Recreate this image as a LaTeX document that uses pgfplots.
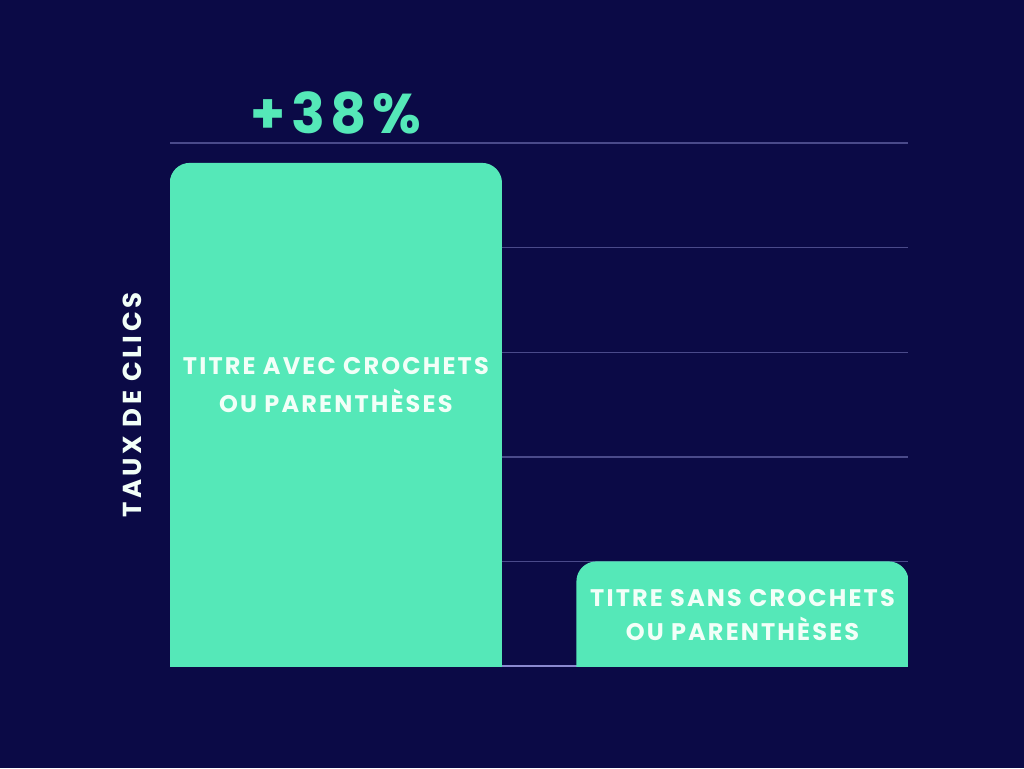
\documentclass[border=0pt]{standalone}
\usepackage{pgfplots}
\pgfplotsset{compat=1.18}
\usepackage{fontspec}
\setmainfont{Poppins}
\newfontfamily\barfont{Poppins}[LetterSpace=9]
\newfontfamily\labfont{Poppins}[LetterSpace=13]
\newfontfamily\bigfont{Poppins}[LetterSpace=10]
\definecolor{bgc}{HTML}{0B0A46}
\definecolor{barc}{HTML}{55E8B8}
\definecolor{gridc}{HTML}{4A4A8A}
\definecolor{basec}{HTML}{8A8AD0}
\definecolor{txtc}{HTML}{F2FFF8}
\begin{document}
\begin{tikzpicture}
\fill[bgc] (0,0) rectangle (512pt,384pt);
\begin{scope}
\clip (0,50.6pt) rectangle (512pt,384pt);
\begin{axis}[
  at={(85pt,35.31pt)}, anchor=south west,
  scale only axis, width=369pt, height=277.19pt,
  xmin=-0.408, xmax=1.407, ymin=0.7, ymax=6,
  axis line style={draw=none},
  tick style={draw=none},
  xtick=\empty,
  ytick={2,3,4,5,6},
  yticklabels={},
  extra y ticks={1},
  extra y tick labels={},
  extra y tick style={grid style={basec, line width=0.8pt}},
  ymajorgrids,
  grid style={gridc, line width=0.7pt},
  clip mode=individual,
  ybar, bar width=0.817,
  ylabel={TAUX DE CLICS},
  every axis y label/.style={at={(axis description cs:-0.0515,0.527)}, rotate=90, anchor=center,
    font=\fontsize{13}{15}\selectfont\bfseries\labfont, text=txtc},
]
\addplot[fill=barc, draw=none, rounded corners=10pt, y filter/.expression={y+1}]
  coordinates {(0,4.81) (1,1.0)};
\node[font=\fontsize{12}{19}\selectfont\bfseries\barfont, text=txtc, align=center]
  at (axis cs:0,3.69) {TITRE AVEC CROCHETS\\OU PARENTHÈSES};
\node[font=\fontsize{12}{17}\selectfont\bfseries\barfont, text=txtc, align=center]
  at (axis cs:1,1.49) {TITRE SANS CROCHETS\\OU PARENTHÈSES};
\node[font=\fontsize{28}{30}\selectfont\bfseries\bigfont, text=barc]
  at (axis cs:0,6.29) {+38\%};
\end{axis}
\end{scope}
\end{tikzpicture}
\end{document}
